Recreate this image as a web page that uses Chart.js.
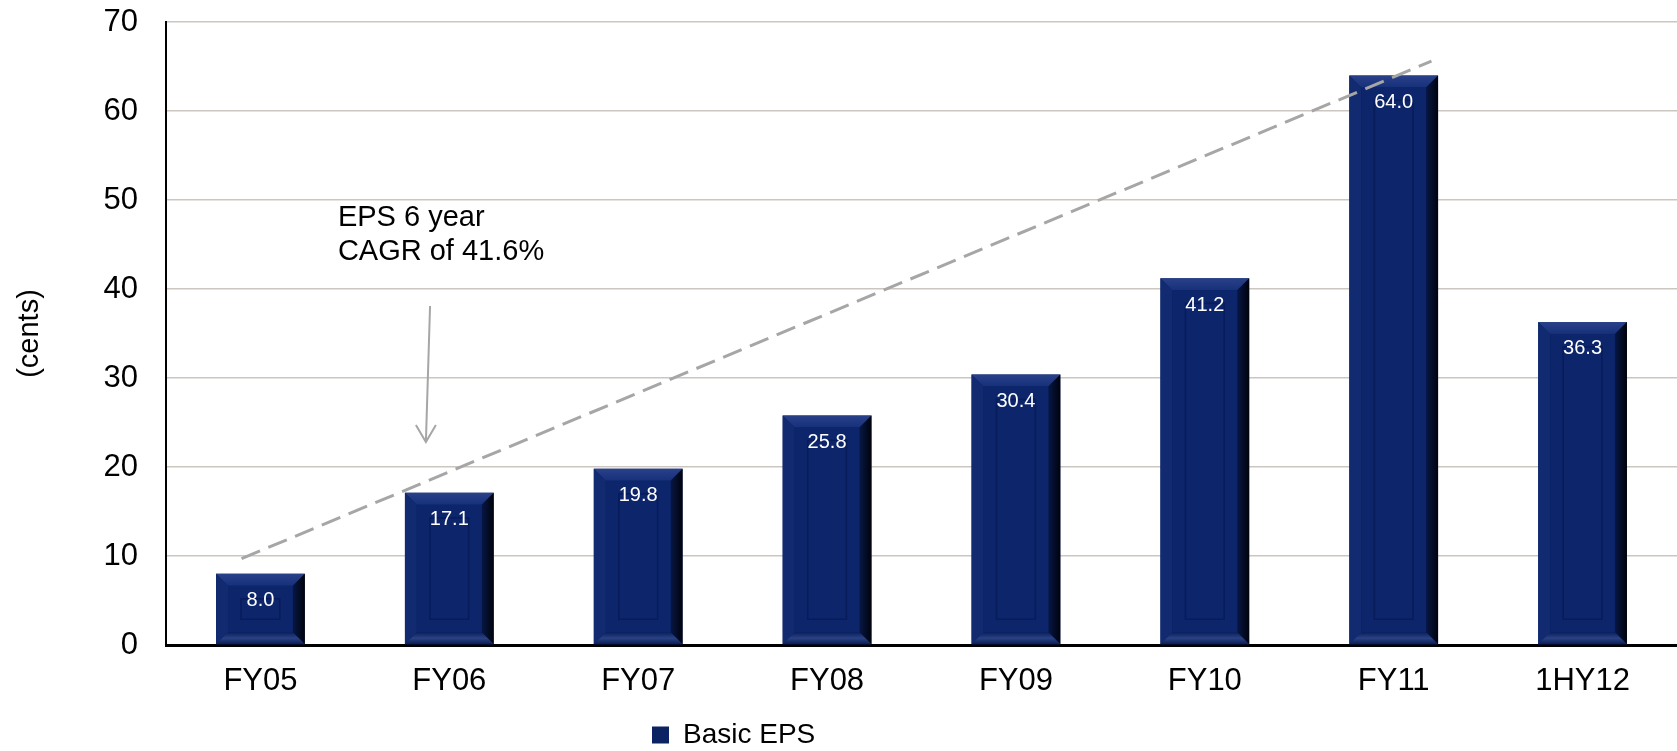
<!DOCTYPE html>
<html>
<head>
<meta charset="utf-8">
<script src="https://cdn.jsdelivr.net/npm/chart.js@4.4.1/dist/chart.umd.min.js"></script>
<style>
  html, body { margin: 0; padding: 0; background: #fff; }
  #wrap { width: 1677px; height: 751px; }
</style>
</head>
<body>
<div id="wrap"><canvas id="epsChart"></canvas></div>
<script>
const categories = ["FY05", "FY06", "FY07", "FY08", "FY09", "FY10", "FY11", "1HY12"];
const basicEps = [8.0, 17.1, 19.8, 25.8, 30.4, 41.2, 64.0, 36.3];
const yTicks = [0, 10, 20, 30, 40, 50, 60, 70];

// CAGR trend line, x in category index units
const trendX = [-0.1, 6.2];
const trendY = [9.7, 65.6];

// annotation
const noteLines = ["EPS 6 year", "CAGR of 41.6%"];
const noteX = 0.41;
const noteY = [47.1, 43.3];
const arrowX = [0.898, 0.876];
const arrowY = [38.1, 22.8];

const FONT = 'Arial, "Liberation Sans", sans-serif';
Chart.defaults.font.family = FONT;
Chart.defaults.color = "#000";

const NAVY = "#0b2263";

// bevelled look + value labels on the bars
const barStyle = {
  id: "barStyle",
  afterDatasetDraw(chart, args) {
    if (args.index !== 0) return;
    const ctx = chart.ctx;
    args.meta.data.forEach((bar, i) => {
      const { x, y, base, width } = bar.getProps(["x", "y", "base", "width"], true);
      const l = x - width / 2, r = x + width / 2, t = y, b = base;
      const bv = 12;
      ctx.save();
      // top
      let g = ctx.createLinearGradient(0, t, 0, t + bv);
      g.addColorStop(0, "#2a4189");
      g.addColorStop(1, "#16307a");
      ctx.fillStyle = g;
      ctx.beginPath();
      ctx.moveTo(l, t); ctx.lineTo(r, t); ctx.lineTo(r - bv, t + bv); ctx.lineTo(l + bv, t + bv);
      ctx.closePath(); ctx.fill();
      // left
      ctx.fillStyle = "#112a70";
      ctx.beginPath();
      ctx.moveTo(l, t); ctx.lineTo(l + bv, t + bv); ctx.lineTo(l + bv, b - bv); ctx.lineTo(l, b);
      ctx.closePath(); ctx.fill();
      // right
      g = ctx.createLinearGradient(r - bv - 4, 0, r, 0);
      g.addColorStop(0, "#0a1d58");
      g.addColorStop(1, "#00030c");
      ctx.fillStyle = g;
      ctx.beginPath();
      ctx.moveTo(r, t); ctx.lineTo(r, b); ctx.lineTo(r - bv, b - bv); ctx.lineTo(r - bv, t + bv);
      ctx.closePath(); ctx.fill();
      // bottom
      g = ctx.createLinearGradient(0, b - bv, 0, b);
      g.addColorStop(0, "#0b1f5c");
      g.addColorStop(0.5, "#2a4284");
      g.addColorStop(1, "#0a1c55");
      ctx.fillStyle = g;
      ctx.beginPath();
      ctx.moveTo(l, b); ctx.lineTo(l + bv, b - bv); ctx.lineTo(r - bv, b - bv); ctx.lineTo(r, b);
      ctx.closePath(); ctx.fill();
      // inner panel
      ctx.fillStyle = "#0c256b";
      ctx.fillRect(l + bv, t + bv, width - 2 * bv, b - t - 2 * bv);
      const ins = 25;
      if (b - t > 2 * ins + 4) {
        ctx.strokeStyle = "#081c5a";
        ctx.lineWidth = 1.5;
        ctx.strokeRect(l + ins, t + ins, width - 2 * ins, b - t - 2 * ins);
      }
      // value label
      ctx.fillStyle = "#fff";
      ctx.font = "20px " + FONT;
      ctx.textAlign = "center";
      ctx.textBaseline = "middle";
      ctx.fillText(basicEps[i].toFixed(1), x, t + 27);
      ctx.restore();
    });
  }
};

// text note and arrow
const note = {
  id: "note",
  afterDatasetsDraw(chart) {
    const ctx = chart.ctx;
    const xs = chart.scales.x2, ys = chart.scales.y;
    ctx.save();
    ctx.fillStyle = "#000";
    ctx.font = "29px " + FONT;
    ctx.textAlign = "left";
    ctx.textBaseline = "alphabetic";
    noteLines.forEach((s, i) => ctx.fillText(s, xs.getPixelForValue(noteX), ys.getPixelForValue(noteY[i])));
    const x1 = xs.getPixelForValue(arrowX[0]), y1 = ys.getPixelForValue(arrowY[0]);
    const x2 = xs.getPixelForValue(arrowX[1]), y2 = ys.getPixelForValue(arrowY[1]);
    ctx.strokeStyle = "#a6a6a6";
    ctx.lineWidth = 2;
    ctx.beginPath();
    ctx.moveTo(x1, y1); ctx.lineTo(x2, y2);
    ctx.moveTo(x2 - 10, y2 - 17); ctx.lineTo(x2, y2); ctx.lineTo(x2 + 10, y2 - 17);
    ctx.stroke();
    ctx.restore();
  }
};

// move legend to where it sits in the original
const legendShift = {
  id: "legendShift",
  afterLayout(chart) {
    const lg = chart.legend;
    if (!lg) return;
    lg.left = 652 - 2;
    lg.top += 8;
    lg.bottom += 8;
  }
};

const ctx = document.getElementById("epsChart").getContext("2d");
new Chart(ctx, {
  type: "bar",
  data: {
    labels: categories,
    datasets: [
      {
        label: "Basic EPS",
        data: basicEps,
        backgroundColor: NAVY,
        borderWidth: 0,
        barPercentage: 0.47,
        categoryPercentage: 1,
        grouped: false,
        order: 1
      },
      {
        type: "line",
        label: "CAGR",
        xAxisID: "x2",
        data: trendX.map((v, i) => ({ x: v, y: trendY[i] })),
        borderColor: "#a6a6a6",
        borderWidth: 3,
        borderDash: [20, 9],
        pointRadius: 0,
        fill: false,
        order: 0
      }
    ]
  },
  options: {
    responsive: true,
    maintainAspectRatio: false,
    animation: false,
    layout: { padding: { top: 22, right: 0, left: 0, bottom: 0 } },
    scales: {
      x: {
        type: "category",
        grid: { display: false },
        border: { color: "#000", width: 3 },
        ticks: { font: { size: 31 }, color: "#000", padding: 10 },
        afterFit(s) { s.height = 66; }
      },
      x2: { type: "linear", display: false, offset: false, min: -0.5, max: 7.5 },
      y: {
        min: 0,
        max: 70,
        afterBuildTicks(s) { s.ticks = yTicks.map((v) => ({ value: v })); },
        ticks: { font: { size: 31 }, color: "#000", padding: 28 },
        grid: { color: "#cbc6c0", lineWidth: 1.5, drawTicks: false },
        border: { color: "#000", width: 2 },
        title: { display: true, text: "(cents)", font: { size: 29 }, color: "#000", padding: { top: 13, bottom: 0 } },
        afterFit(s) {
          s.width = 166;
          s.paddingTop = 0;
          s.paddingBottom = 0;
        }
      }
    },
    plugins: {
      legend: {
        position: "bottom",
        align: "start",
        labels: {
          filter: (item) => item.datasetIndex === 0,
          font: { size: 28 },
          color: "#000",
          boxWidth: 17,
          boxHeight: 17,
          padding: 2
        }
      },
      tooltip: { enabled: false }
    }
  },
  plugins: [barStyle, note, legendShift]
});
</script>
</body>
</html>
